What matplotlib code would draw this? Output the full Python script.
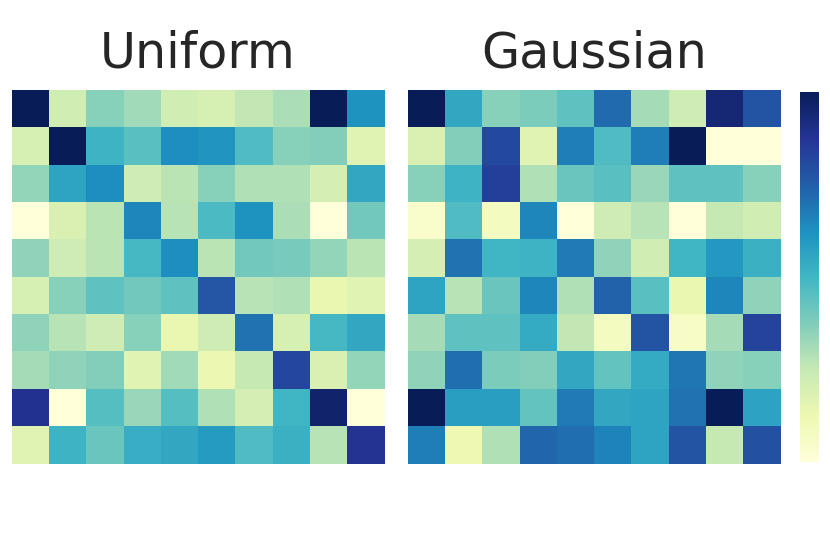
import numpy as np
import matplotlib
matplotlib.use("Agg")
import matplotlib.pyplot as plt

titles = ["Uniform", "Gaussian"]

uniform_values = [
    [1.00, 0.22, 0.36, 0.32, 0.22, 0.20, 0.26, 0.30, 1.00, 0.62],
    [0.20, 1.00, 0.51, 0.45, 0.63, 0.61, 0.47, 0.36, 0.37, 0.17],
    [0.34, 0.56, 0.63, 0.23, 0.27, 0.36, 0.29, 0.29, 0.21, 0.55],
    [0.00, 0.19, 0.27, 0.65, 0.28, 0.48, 0.62, 0.30, 0.00, 0.40],
    [0.35, 0.23, 0.27, 0.49, 0.63, 0.27, 0.40, 0.39, 0.34, 0.27],
    [0.20, 0.36, 0.44, 0.40, 0.44, 0.77, 0.28, 0.29, 0.14, 0.17],
    [0.35, 0.28, 0.23, 0.36, 0.14, 0.23, 0.70, 0.20, 0.49, 0.55],
    [0.31, 0.35, 0.37, 0.17, 0.32, 0.13, 0.25, 0.82, 0.19, 0.34],
    [0.89, 0.00, 0.46, 0.33, 0.46, 0.29, 0.21, 0.50, 0.96, 0.00],
    [0.17, 0.51, 0.42, 0.53, 0.55, 0.59, 0.47, 0.52, 0.28, 0.875],
]

gaussian_values = [
    [1.00, 0.55, 0.36, 0.38, 0.44, 0.72, 0.31, 0.23, 0.94, 0.78],
    [0.19, 0.37, 0.81, 0.17, 0.67, 0.47, 0.67, 1.00, 0.00, 0.00],
    [0.36, 0.51, 0.84, 0.29, 0.42, 0.45, 0.33, 0.44, 0.44, 0.36],
    [0.04, 0.47, 0.08, 0.65, 0.00, 0.23, 0.28, 0.00, 0.25, 0.22],
    [0.21, 0.70, 0.50, 0.51, 0.68, 0.35, 0.22, 0.50, 0.60, 0.52],
    [0.56, 0.28, 0.42, 0.65, 0.29, 0.74, 0.45, 0.14, 0.65, 0.35],
    [0.31, 0.44, 0.44, 0.54, 0.26, 0.08, 0.78, 0.06, 0.31, 0.83],
    [0.35, 0.71, 0.38, 0.37, 0.55, 0.43, 0.54, 0.69, 0.35, 0.36],
    [1.00, 0.58, 0.58, 0.43, 0.68, 0.55, 0.56, 0.70, 1.00, 0.57],
    [0.67, 0.12, 0.29, 0.73, 0.71, 0.66, 0.56, 0.78, 0.25, 0.79],
]

W, H = 830, 554
fig = plt.figure(figsize=(W / 100, H / 100), dpi=100)
fig.patch.set_facecolor("white")

def box(x0, y0, x1, y1):
    return [x0 / W, 1 - y1 / H, (x1 - x0) / W, (y1 - y0) / H]

axes_boxes = [box(11.7, 90, 384.5, 463.5), box(407.7, 90, 780.5, 463.5)]
cmap = plt.get_cmap("YlGnBu")
mesh = None
for title, data, b in zip(titles, [uniform_values, gaussian_values], axes_boxes):
    ax = fig.add_axes(b)
    arr = np.array(data)
    mesh = ax.pcolormesh(arr, cmap=cmap, vmin=0, vmax=1)
    ax.set_xlim(0, arr.shape[1])
    ax.set_ylim(arr.shape[0], 0)
    ax.set_xticks([])
    ax.set_yticks([])
    for s in ax.spines.values():
        s.set_visible(False)
    cx = b[0] + b[2] / 2
    fig.text(cx, 1 - 68 / H, title, ha="center", va="baseline",
             fontsize=35.5, color="#262626", family="DejaVu Sans")

cax = fig.add_axes(box(800, 92, 819, 462))
cb = fig.colorbar(mesh, cax=cax)
cb.outline.set_visible(False)
cax.set_yticks([])
cax.set_xticks([])

fig.savefig("out.png", dpi=100, facecolor="white")
